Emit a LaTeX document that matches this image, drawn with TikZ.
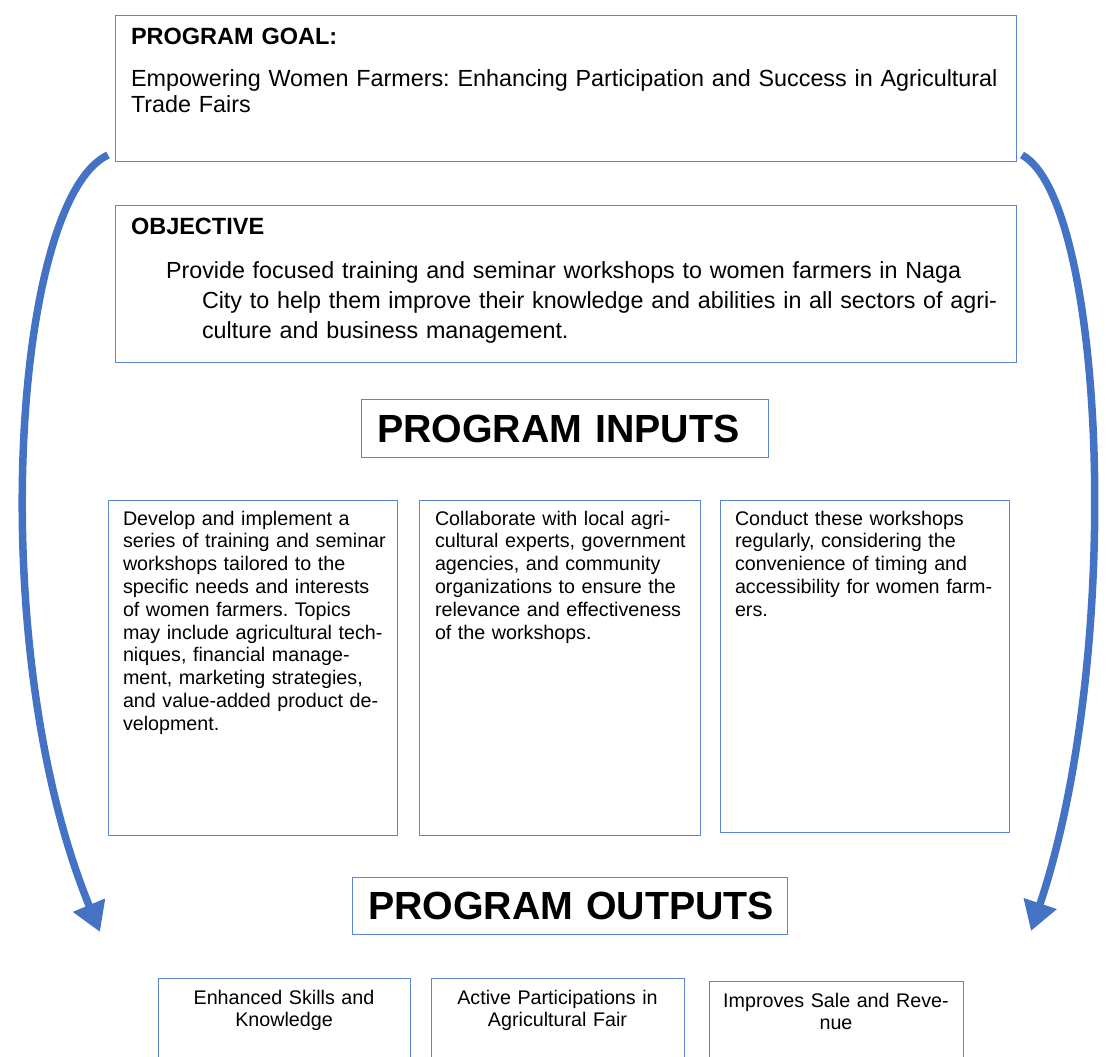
\documentclass[tikz,border=0pt]{standalone}
\usepackage{fontspec}
\setmainfont{Liberation Sans}
\usetikzlibrary{arrows.meta}
\definecolor{arrowblue}{HTML}{4472C4}
\definecolor{boxblue}{HTML}{5B86D6}
\newcommand\headsfnt{\fontsize{23.5}{26.5}\selectfont}
\newcommand\goalfnt{\fontsize{23.35}{26.5}\selectfont}
\newcommand\objfnt{\fontsize{23.3}{30}\selectfont}
\newcommand\inpfnt{\fontsize{19.7}{22.8}\selectfont}
\newcommand\headfnt{\fontsize{39.3}{44}\selectfont\bfseries}
\frenchspacing
\begin{document}
\begin{tikzpicture}[x=1pt,y=-1pt,
  box/.style={draw=boxblue, line width=1.1pt, rectangle, inner sep=0pt, anchor=north west, fill=none},
  ltxt/.style={anchor=base west, inner sep=0pt, outer sep=0pt, align=left, text width=#1},
  ctxt/.style={anchor=base, inner sep=0pt, outer sep=0pt, align=center, text width=#1},
  bigarrow/.style={draw=arrowblue, line width=7.5pt, -{Triangle[length=29pt,width=33pt]}},
]
\useasboundingbox (0,0) rectangle (1108,1057);
\clip (0,0) rectangle (1108,1057);

% Goal
\node[box, minimum width=901pt, minimum height=146pt] (goal) at (115,15) {};
\node[ltxt=880pt, font=\headsfnt\bfseries] (goalhead) at (131,45) {PROGRAM GOAL:};
\node[ltxt=880pt, font=\goalfnt] (goaltext) at (131,86) {Empowering Women Farmers: Enhancing Participation and Success in Agricultural\\Trade Fairs};

% Objective
\node[box, minimum width=901pt, minimum height=157pt] (obj) at (115,205) {};
\node[ltxt=880pt, font=\headsfnt\bfseries] (objhead) at (131,234) {OBJECTIVE};
\node[ltxt=900pt, font=\objfnt] (objtext) at (166,278) {Provide focused training and seminar workshops to women farmers in Naga\\\hspace*{36pt}City to help them improve their knowledge and abilities in all sectors of agri-\\\hspace*{36pt}culture and business management.};

% Inputs heading
\node[box, minimum width=407pt, minimum height=58pt] (inbox) at (361,399) {};
\node[ltxt=400pt, font=\headfnt] (inhead) at (377,442) {PROGRAM INPUTS};

% Input boxes
\node[box, minimum width=289pt, minimum height=335pt] (in1) at (108,500) {};
\node[box, minimum width=281pt, minimum height=335pt] (in2) at (419,500) {};
\node[box, minimum width=289pt, minimum height=332pt] (in3) at (720,500) {};
\node[ltxt=280pt, font=\inpfnt] (in1text) at (123,525) {Develop and implement a\\series of training and seminar\\workshops tailored to the\\specific needs and interests\\of women farmers. Topics\\may include agricultural tech-\\niques, financial manage-\\ment, marketing strategies,\\and value-added product de-\\velopment.};
\node[ltxt=270pt, font=\inpfnt] (in2text) at (435,525) {Collaborate with local agri-\\cultural experts, government\\agencies, and community\\organizations to ensure the\\relevance and effectiveness\\of the workshops.};
\node[ltxt=280pt, font=\inpfnt] (in3text) at (735,525) {Conduct these workshops\\regularly, considering the\\convenience of timing and\\accessibility for women farm-\\ers.};

% Outputs heading
\node[box, minimum width=435pt, minimum height=57pt] (outbox) at (352,877) {};
\node[ltxt=430pt, font=\headfnt] (outhead) at (368,919) {PROGRAM OUTPUTS};

% Output boxes
\node[box, minimum width=252pt, minimum height=110pt] (out1) at (158,978) {};
\node[box, minimum width=253pt, minimum height=110pt] (out2) at (431,978) {};
\node[box, minimum width=254pt, minimum height=110pt] (out3) at (709,981) {};
\node[ctxt=250pt, font=\inpfnt] (out1text) at (284,1004) {Enhanced Skills and\\Knowledge};
\node[ctxt=250pt, font=\inpfnt] (out2text) at (557.5,1004) {Active Participations in\\Agricultural Fair};
\node[ctxt=250pt, font=\inpfnt] (out3text) at (836,1007) {Improves Sale and Reve-\\nue};

% Arrows
\coordinate (ls) at (108,155);
\coordinate (le) at (100,932);
\coordinate (rs) at (1022,155);
\coordinate (re) at (1031,931);
\draw[bigarrow] (ls) .. controls (12,200) and (-16,650) .. (le);
\draw[bigarrow] (rs) .. controls (1105,200) and (1125,650) .. (re);
\end{tikzpicture}
\end{document}
